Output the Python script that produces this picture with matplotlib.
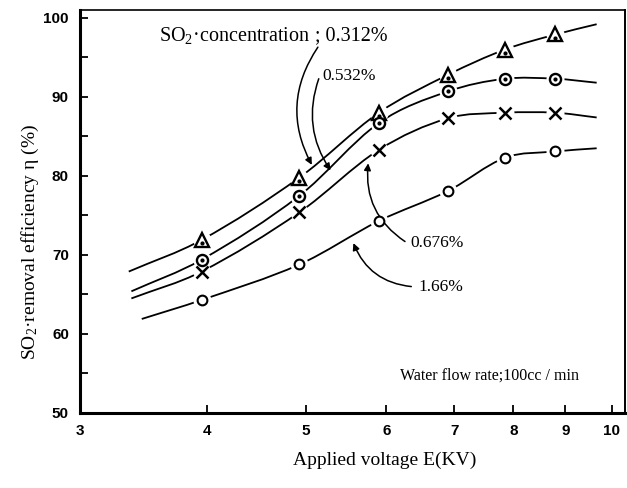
import numpy as np
import matplotlib
matplotlib.use("Agg")
import matplotlib.pyplot as plt
from matplotlib.path import Path
from matplotlib.patches import PathPatch

plt.rcParams['font.family'] = 'Liberation Serif'
plt.rcParams['mathtext.fontset'] = 'custom'
plt.rcParams['mathtext.rm'] = 'Liberation Serif'
plt.rcParams['mathtext.it'] = 'Liberation Serif:italic'

# values
voltage = [3.95, 4.93, 5.9, 6.9, 7.85, 8.8]
eff_0312 = [71.9, 79.8, 88.0, 92.8, 96.0, 97.9]
eff_0532 = [69.4, 77.5, 86.7, 90.7, 92.3, 92.3]
eff_0676 = [67.9, 75.4, 83.3, 87.3, 88.0, 88.0]
eff_166 = [64.3, 68.8, 74.3, 78.1, 82.3, 83.1]

# ends of the hand drawn guide curves
curve_start_x = [3.35, 3.37, 3.37, 3.45]
curve_start_y = [67.9, 65.4, 64.5, 61.9]
curve_end_x = [9.66, 9.66, 9.66, 9.66]
curve_end_y = [99.2, 91.8, 87.4, 83.5]

x_ticks = [3, 4, 5, 6, 7, 8, 9, 10]
y_ticks = [50, 60, 70, 80, 90, 100]


def smooth_path(xs, ys):
    # cubic hermite pieces as bezier segments, in log-x space
    u = np.log10(xs)
    y = np.asarray(ys, float)
    n = len(u)
    m = np.empty(n)
    m[0] = (y[1] - y[0]) / (u[1] - u[0])
    m[-1] = (y[-1] - y[-2]) / (u[-1] - u[-2])
    for i in range(1, n - 1):
        m[i] = (y[i + 1] - y[i - 1]) / (u[i + 1] - u[i - 1])
    verts = [(u[0], y[0])]
    codes = [Path.MOVETO]
    for i in range(n - 1):
        h = (u[i + 1] - u[i]) / 3
        verts += [(u[i] + h, y[i] + m[i] * h),
                  (u[i + 1] - h, y[i + 1] - m[i + 1] * h),
                  (u[i + 1], y[i + 1])]
        codes += [Path.CURVE4] * 3
    verts = np.array(verts)
    verts[:, 0] = 10 ** verts[:, 0]
    return Path(verts, codes)


fig = plt.figure(figsize=(6.27, 4.88), dpi=100)
ax = fig.add_axes([0.1276, 0.1537, 0.8692, 0.8258])
ax.set_xscale('log')
ax.set_xlim(3, 10.3)
ax.set_ylim(50, 101)

series = [eff_0312, eff_0532, eff_0676, eff_166]
for i, eff in enumerate(series):
    xs = [curve_start_x[i]] + voltage + [curve_end_x[i]]
    ys = [curve_start_y[i]] + eff + [curve_end_y[i]]
    ax.add_patch(PathPatch(smooth_path(xs, ys), fill=False, lw=1.3,
                           edgecolor='black', zorder=2))
    # white blobs to break the curve around each marker
    ax.plot(voltage, eff, 'o', ms=13, mfc='white', mec='none', zorder=3)

ax.plot(voltage, eff_0312, '^', ms=9.5, mfc='white', mec='black', mew=1.7, zorder=4)
ax.plot(voltage, [v - 0.4 for v in eff_0312], '.', ms=4, color='black', zorder=5)
ax.plot(voltage, eff_0532, 'o', ms=8, mfc='white', mec='black', mew=1.7, zorder=4)
ax.plot(voltage, eff_0532, '.', ms=4, color='black', zorder=5)
ax.plot(voltage, eff_0676, 'x', ms=8, color='black', mew=1.8, zorder=4)
ax.plot(voltage, eff_166, 'o', ms=7, mfc='white', mec='black', mew=1.5, zorder=4)

arrow = dict(arrowstyle='-|>', color='black', lw=1.1, shrinkA=0, shrinkB=0,
             mutation_scale=10)
ax.annotate('', xy=(5.07, 81.4), xytext=(5.14, 96.3),
            arrowprops=dict(arrow, connectionstyle='arc3,rad=0.3'))
ax.annotate('', xy=(5.29, 80.7), xytext=(5.15, 92.3),
            arrowprops=dict(arrow, connectionstyle='arc3,rad=0.25'))
ax.annotate('', xy=(5.76, 81.6), xytext=(6.26, 71.7),
            arrowprops=dict(arrow, connectionstyle='arc3,rad=-0.3'))
ax.annotate('', xy=(5.57, 71.5), xytext=(6.35, 66.0),
            arrowprops=dict(arrow, connectionstyle='arc3,rad=-0.3'))

ax.text(3.59, 97.8, 'SO$_2$·concentration', fontsize=14.5,
        ha='left', va='center')
ax.text(6.02, 97.8, '; 0.312%', fontsize=14.5, ha='right', va='center')
ax.text(5.19, 92.6, '0.532%', fontsize=12.5, ha='left', va='center')
ax.text(6.33, 71.5, '0.676%', fontsize=12.5, ha='left', va='center')
ax.text(6.45, 65.9, '1.66%', fontsize=12.5, ha='left', va='center')
ax.text(6.19, 54.7, 'Water flow rate;100cc / min', fontsize=11.5,
        ha='left', va='center')

ax.set_xticks(x_ticks)
ax.set_xticklabels([str(t) for t in x_ticks])
ax.xaxis.set_minor_locator(matplotlib.ticker.NullLocator())
ax.set_yticks(y_ticks)
ax.set_yticks([55, 65, 75, 85, 95], minor=True)
ax.tick_params(which='both', direction='in', length=6, width=1.3, pad=8)
for lab in ax.get_xticklabels() + ax.get_yticklabels():
    lab.set_fontfamily('Liberation Sans')
    lab.set_fontweight('bold')
    lab.set_fontsize(11)

ax.spines['left'].set_linewidth(2.2)
ax.spines['bottom'].set_linewidth(2.2)
ax.spines['top'].set_linewidth(1.2)
ax.spines['right'].set_linewidth(1.4)

fig.text(0.048, 0.505, 'SO$_2$·removal efficiency η (%)', rotation=90,
         fontsize=14, ha='center', va='center')
fig.text(0.613, 0.057, 'Applied voltage E(KV)', fontsize=14,
         ha='center', va='center')

fig.savefig('out.png', dpi=100)
